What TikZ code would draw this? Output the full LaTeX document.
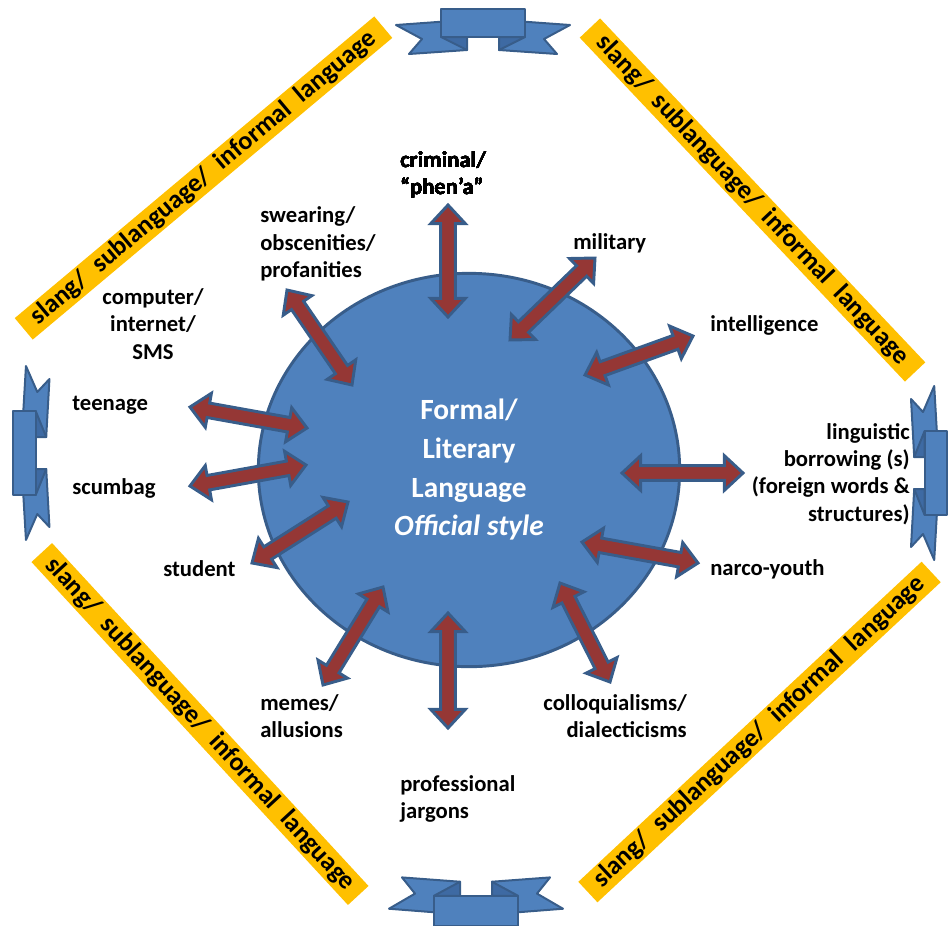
\documentclass[tikz,border=0pt]{standalone}
\usepackage{fontspec}
\setmainfont{Carlito}
\usetikzlibrary{calc,shapes.geometric}
\definecolor{CoreBlue}{HTML}{4F81BD}
\definecolor{CoreLine}{HTML}{385D8A}
\definecolor{ArrowRed}{HTML}{953735}
\definecolor{BarGold}{HTML}{FFC000}
\definecolor{FoldBlue}{HTML}{3E6AA3}
\tikzset{
  every node/.style={font=\bfseries},
  core/.style={ellipse, draw=CoreLine, line width=2.2pt, fill=CoreBlue, text=white, align=center, minimum width=316pt, minimum height=295pt, inner sep=0pt, font=\bfseries\fontsize{22}{29}\selectfont},
  tag/.style={inner sep=0pt, font=\bfseries\fontsize{17}{20.5}\selectfont},
  bar/.style={fill=BarGold, minimum height=21pt, inner sep=0pt, font=\bfseries\fontsize{19.5}{21}\selectfont},
  duplexarrow/.style={fill=ArrowRed, draw=CoreLine, line width=2.2pt},
  ribbonpart/.style={fill=CoreBlue, draw=CoreLine, line width=1.5pt, line join=round},
  ribbonfold/.style={fill=FoldBlue, draw=CoreLine, line width=1.5pt, line join=round},
}
\newcommand{\headlen}{14pt}
\newcommand{\headw}{13pt}
\newcommand{\shaftw}{5.5pt}
% double block arrow between two named coordinates
\newcommand{\duplex}[2]{%
  \coordinate (#1n) at ($(#1)!\headlen!(#2)$);
  \coordinate (#2n) at ($(#2)!\headlen!(#1)$);
  \filldraw[duplexarrow] (#1) -- ($(#1n)!\headw!90:(#2)$) -- ($(#1n)!\shaftw!90:(#2)$)
    -- ($(#2n)!\shaftw!-90:(#1)$) -- ($(#2n)!\headw!-90:(#1)$) -- (#2)
    -- ($(#2n)!\headw!90:(#1)$) -- ($(#2n)!\shaftw!90:(#1)$)
    -- ($(#1n)!\shaftw!-90:(#2)$) -- ($(#1n)!\headw!-90:(#2)$) -- cycle;
}
% ribbon banner: origin, rotation, depth scale
\newcommand{\ribbon}[3]{%
  \begin{scope}[shift={#1}, rotate=#2, yscale=#3]
    \filldraw[ribbonpart] (-87,16) -- (-18,11) -- (-16,41) -- (-74,45) -- (-61,30) -- cycle;
    \filldraw[ribbonpart] (87,16) -- (18,11) -- (16,41) -- (74,45) -- (61,30) -- cycle;
    \filldraw[ribbonfold] (-42,28) -- (-16,28) -- (-16,41) -- cycle;
    \filldraw[ribbonfold] (42,28) -- (16,28) -- (16,41) -- cycle;
    \filldraw[ribbonpart] (-42,0) rectangle (42,28);
  \end{scope}}
\newcommand{\barsp}{\hspace{0.5em}}
\newcommand{\barline}{slang/\barsp sublanguage/\barsp informal\barsp language}

\begin{document}
\begin{tikzpicture}[x=0.75pt,y=-0.75pt]
  \useasboundingbox (0,0) rectangle (948,925);
  % frame bars
  \node[bar, minimum width=352pt, rotate=40] (barNW) at (203.5,178) {\barline};
  \node[bar, minimum width=355pt, rotate=-46.6] (barNE) at (752.5,200) {\barline};
  \node[bar, minimum width=350pt, rotate=-47.3] (barSW) at (200,724) {\barline};
  \node[bar, minimum width=352pt, rotate=43] (barSE) at (759.5,732) {\barline};
  % ribbons
  \ribbon{(483,9)}{0}{1}
  \ribbon{(13,453)}{90}{0.81}
  \ribbon{(947,473)}{-90}{0.8}
  \ribbon{(476,926)}{180}{1.08}
  % centre
  \node[core] (core) at (469,470) {Formal/\\Literary\\Language\\\textit{Official style}};
  % arrow ends
  \coordinate (crimA) at (448,205);  \coordinate (crimB) at (448,317);
  \coordinate (swearA) at (287,290); \coordinate (swearB) at (352,385);
  \coordinate (milA) at (595,258);   \coordinate (milB) at (510,340);
  \coordinate (intA) at (693,336);   \coordinate (intB) at (585,375);
  \coordinate (teenA) at (190,407);  \coordinate (teenB) at (307,428);
  \coordinate (scumA) at (190,486);  \coordinate (scumB) at (306,465);
  \coordinate (lingA) at (743,473);  \coordinate (lingB) at (622,473);
  \coordinate (studA) at (252,563);  \coordinate (studB) at (348,502);
  \coordinate (narcoA) at (698,563); \coordinate (narcoB) at (582,542);
  \coordinate (memeA) at (323,685);  \coordinate (memeB) at (383,587);
  \coordinate (profA) at (448,728);  \coordinate (profB) at (448,613);
  \coordinate (colloA) at (610,682); \coordinate (colloB) at (560,583);
  \foreach \e in {crim,swear,mil,int,teen,scum,ling,stud,narco,meme,prof,collo}
    \duplex{\e A}{\e B}
  % labels
  \node[tag, align=left, anchor=west] (crim) at (400,175) {criminal/\\“phen’a”};
  \node[tag, align=left, anchor=west] (swear) at (260,244) {swearing/\\obscenities/\\profanities};
  \node[tag, anchor=west] (mil) at (573,243) {military};
  \node[tag, anchor=west] (int) at (710,325) {intelligence};
  \node[tag, align=center] (comp) at (153,324) {computer/\\internet/\\SMS};
  \node[tag, anchor=west] (teen) at (72,405) {teenage};
  \node[tag, anchor=west] (scum) at (72,488) {scumbag};
  \node[tag, align=right, anchor=east] (ling) at (910,474) {linguistic\\borrowing (s)\\(foreign words \&\\structures)};
  \node[tag, anchor=west] (stud) at (163,569) {student};
  \node[tag, anchor=west] (narco) at (710,569) {narco-youth};
  \node[tag, align=left, anchor=west] (meme) at (260,716) {memes/\\allusions};
  \node[tag, align=right, anchor=east] (collo) at (687,716) {colloquialisms/\\dialecticisms};
  \node[tag, align=left, anchor=west] (prof) at (400,799) {professional\\jargons};
\end{tikzpicture}
\end{document}
